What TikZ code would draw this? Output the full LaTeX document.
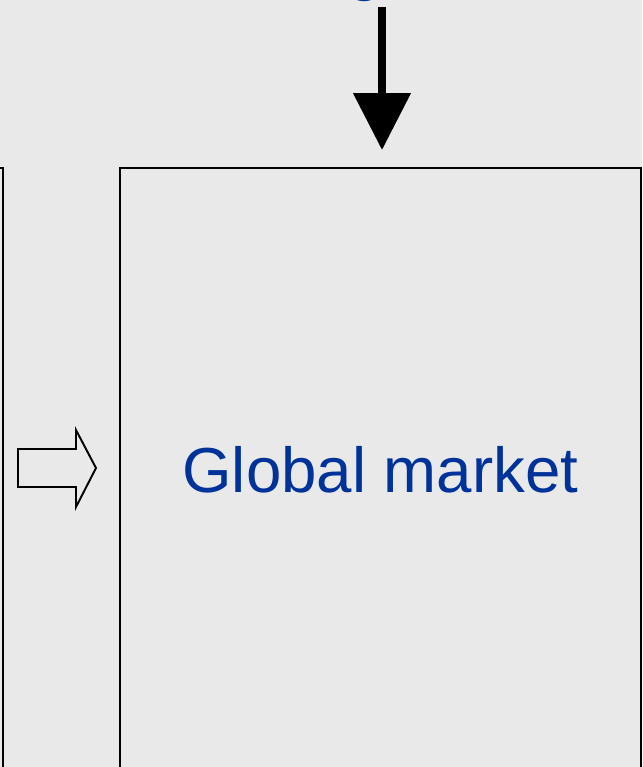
\documentclass[tikz,border=0pt]{standalone}
\usepackage{fontspec}
\setmainfont{Liberation Sans}
\usetikzlibrary{arrows.meta}
\definecolor{bg}{RGB}{233,233,233}
\definecolor{darkblue}{RGB}{0,51,153}

\begin{document}
\begin{tikzpicture}[x=0.02cm, y=-0.02cm,
    box/.style={draw, line width=1.1pt, fill=bg, inner sep=0pt},
    label/.style={text=darkblue, font=\fontsize{36.2}{40}\selectfont}]
            % Background
            \fill[bg] (0,0) rectangle (642,767);
            \useasboundingbox (0,0) rectangle (642,767);
            % Nodes
            \node[label, anchor=base] (top) at (365,-11.3) {g};
            \coordinate (src) at (382,7);
            \node[box, minimum width=10.42cm, minimum height=12.08cm, anchor=north west] (market) at (119,167) {};
            \node[label] (marketlabel) at (market.center) {Global market};
            \node[box, minimum width=8cm, minimum height=12.08cm, anchor=north east] (left) at (4,167) {};
            % Edges
            \draw[line width=0.16cm, -{Triangle[width=1.12cm, length=1.14cm]}, shorten >=0.34cm] (src) -- (src |- market.north);
            \draw[line width=1.1pt, fill=bg] (18,449) -- (76,449) -- (76,430) -- (96,468) -- (76,507) -- (76,487) -- (18,487) -- cycle;
        \end{tikzpicture}
\end{document}
